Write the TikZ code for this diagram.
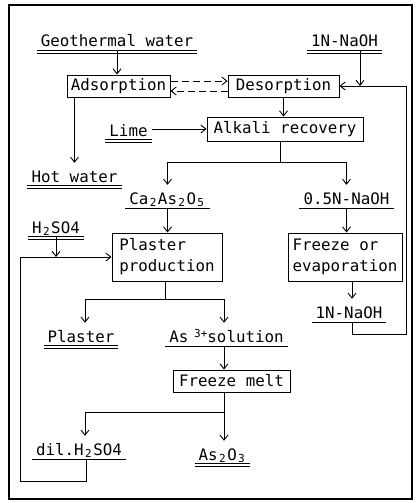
\documentclass[tikz,border=0pt]{standalone}
\usepackage{fontspec}
\newfontfamily\monofam{DejaVu Sans Mono}
\usetikzlibrary{arrows.meta}
\newcommand{\dn}[1]{\makebox[0.602em]{\raisebox{-2.5pt}{\fontsize{11}{11}\selectfont #1}}}
\newcommand{\upx}[1]{\makebox[1.204em][r]{\raisebox{5pt}{\fontsize{11}{11}\selectfont #1}}}
\begin{document}
\begin{tikzpicture}[x=1pt,y=-1pt,
  font=\monofam\fontsize{15.8}{21}\selectfont,
  >={Straight Barb[length=5pt,width=8pt]},
  conn/.style={line width=0.9pt},
  box/.style={draw, line width=1pt, inner sep=0pt, align=left},
  lab/.style={inner xsep=4pt, inner ysep=0pt, text height=19pt, text depth=4pt, anchor=base},
  ulone/.style={lab, append after command={(\tikzlastnode.south west) edge[line width=0.9pt] (\tikzlastnode.south east)}},
  ultwo/.style={lab, append after command={([yshift=1.2pt]\tikzlastnode.south west) edge[line width=0.9pt] ([yshift=1.2pt]\tikzlastnode.south east) ([yshift=-1.8pt]\tikzlastnode.south west) edge[line width=0.9pt] ([yshift=-1.8pt]\tikzlastnode.south east)}}
]
\useasboundingbox (0,0) rectangle (415,503);
\draw[line width=1.2pt] (9,5) rectangle (412,499);

% boxes
\node[box, minimum width=103pt, minimum height=22pt] (ads) at (118.5,86) {Adsorption};
\node[box, minimum width=111pt, minimum height=22pt] (des) at (283.5,86) {Desorption};
\node[box, minimum width=156pt, minimum height=24pt] (alk) at (285,129) {Alkali recovery};
\node[box, minimum width=110pt, minimum height=48pt] (pp) at (167,257) {Plaster\\production};
\node[box, minimum width=114pt, minimum height=48pt] (fe) at (345,257) {Freeze or\\evaporation};
\node[box, minimum width=117pt, minimum height=22pt] (fm) at (231.5,381) {Freeze melt};

% labels
\node[ultwo] (geo) at (117,47) {Geothermal water};
\node[ultwo] (naoha) at (344.5,47) {1N-NaOH};
\node[ultwo] (lime) at (128.5,136) {Lime};
\node[ultwo] (hot) at (74.5,182) {Hot water};
\node[ulone] (ca) at (167.5,204) {Ca\dn{2}As\dn{2}O\dn{5}};
\node[ulone] (naohh) at (346.5,204) {0.5N-NaOH};
\node[ultwo] (hso) at (56,233) {H\dn{2}SO4};
\node[ultwo] (plaster) at (81,342) {Plaster};
\node[ulone] (as3) at (226.5,342) {As\upx{3+}solution};
\node[ulone] (naohb) at (349,318) {1N-NaOH};
\node[ulone] (dil) at (79,455) {dil.H\dn{2}SO4};
\node[ultwo] (aso) at (222.5,460) {As\dn{2}O\dn{3}};

% coordinates
\coordinate (j1) at (360,86);
\coordinate (r1) at (406,86);
\coordinate (r2) at (406,334);
\coordinate (b1) at (352,334);
\coordinate (s1) at (280,162);
\coordinate (s2) at (165,299);
\coordinate (s3) at (224,412);
\coordinate (c85) at (85,0);
\coordinate (c224) at (224,0);
\coordinate (l1) at (20,481);
\coordinate (l2) at (86,481);

% connectors
\draw[conn,->] (geo.south) -- (geo.south |- ads.north);
\draw[conn,->,dash pattern=on 7pt off 4pt] ([yshift=5pt]ads.east) -- ([yshift=5pt]des.west);
\draw[conn,->,dash pattern=on 7pt off 4pt] ([yshift=-5pt]des.west) -- ([yshift=-5pt]ads.east);
\draw[conn,->] (naoha.south -| j1) -- (j1);
\draw[conn,->] (naohb.south -| b1) -- (b1) -- (r2) -- (r1) -- (des.east);
\draw[conn,->] (des.south) -- (des.south |- alk.north);
\draw[conn,->] (lime.east |- alk.west) -- (alk.west);
\draw[conn,->] (ads.south -| hot.north) -- (hot.north);
\draw[conn] (s1 |- alk.south) -- (s1);
\draw[conn,->] (s1) -| (ca.north);
\draw[conn,->] (s1) -| (naohh.north);
\draw[conn,->] (ca.south) -- (ca.south |- pp.north);
\draw[conn,->] (naohh.south) -- (naohh.south |- fe.north);
\draw[conn,->] (hso.south) -- (hso.south |- pp.west);
\draw[conn,->] (dil.south -| l2) -- (l2) -- (l1) -- (l1 |- pp.west) -- (pp.west);
\draw[conn] (pp.south -| s2) -- (s2);
\draw[conn,->] (s2) -| (c85 |- plaster.north);
\draw[conn,->] (s2) -| (c224 |- as3.north);
\draw[conn,->] (as3.south -| c224) -- (c224 |- fm.north);
\draw[conn] (fm.south -| s3) -- (s3);
\draw[conn,->] (s3) -| (c85 |- dil.north);
\draw[conn,->] (s3) -- (s3 |- aso.north);
\draw[conn,->] (b1 |- fe.south) -- (b1 |- naohb.north);
\end{tikzpicture}
\end{document}
